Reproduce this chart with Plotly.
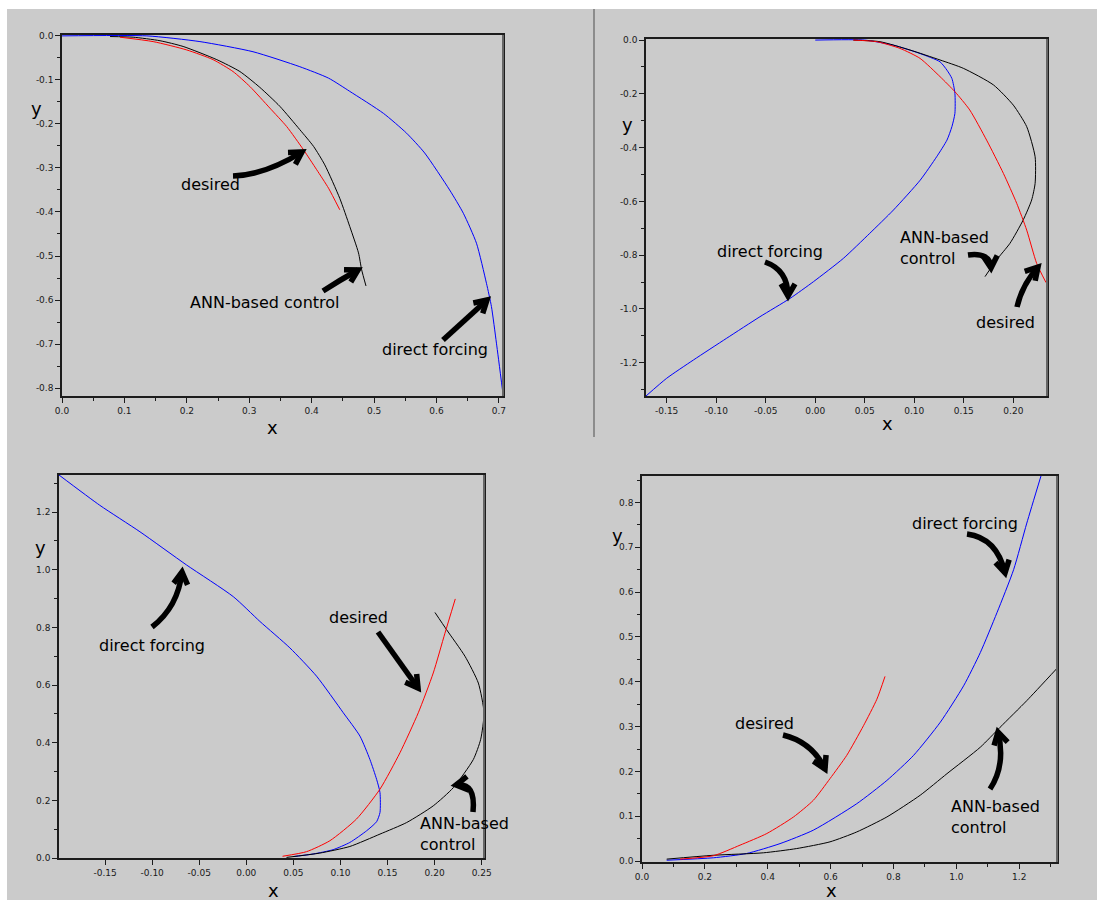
import math
import plotly.graph_objects as go

W, H = 1097, 900

# ---------------- data ----------------
# Panel 1 (top-left)
p1_desired_x = [0.093, 0.146, 0.200, 0.242, 0.274, 0.301, 0.333, 0.360, 0.387, 0.408, 0.427, 0.445]
p1_desired_y = [-0.003, -0.013, -0.032, -0.054, -0.081, -0.115, -0.164, -0.206, -0.259, -0.304, -0.346, -0.395]
p1_ann_x = [0.077, 0.114, 0.157, 0.194, 0.248, 0.285, 0.317, 0.349, 0.381, 0.403, 0.421, 0.445, 0.461, 0.475, 0.480, 0.487]
p1_ann_y = [-0.0015, -0.003, -0.011, -0.024, -0.054, -0.081, -0.117, -0.160, -0.213, -0.251, -0.293, -0.369, -0.433, -0.493, -0.531, -0.568]
p1_direct_x = [0.0, 0.136, 0.221, 0.306, 0.381, 0.427, 0.461, 0.515, 0.552, 0.581, 0.621, 0.643, 0.664, 0.680, 0.688, 0.696, 0.706]
p1_direct_y = [0.0, 0.0, -0.013, -0.036, -0.070, -0.096, -0.126, -0.176, -0.221, -0.266, -0.350, -0.403, -0.471, -0.562, -0.615, -0.698, -0.808]

# Panel 2 (top-right)
p2_desired_x = [0.0385, 0.062, 0.0856, 0.1058, 0.126, 0.141, 0.156, 0.173, 0.190, 0.2034, 0.2135, 0.2236, 0.233]
p2_desired_y = [0.0, -0.006, -0.031, -0.068, -0.136, -0.192, -0.260, -0.372, -0.496, -0.607, -0.707, -0.831, -0.902]
p2_ann_x = [0.0385, 0.0654, 0.0957, 0.126, 0.1495, 0.180, 0.200, 0.2135, 0.222, 0.222, 0.2185, 0.210, 0.1966, 0.183, 0.1714]
p2_ann_y = [0.0, -0.006, -0.037, -0.074, -0.105, -0.167, -0.242, -0.322, -0.434, -0.533, -0.595, -0.669, -0.756, -0.818, -0.880]
p2_direct_x = [0.0, 0.050, 0.0789, 0.1058, 0.126, 0.133, 0.138, 0.141, 0.141, 0.138, 0.133, 0.1226, 0.106, 0.079,
               0.055, 0.0284, -0.0019, -0.0255, -0.0558, -0.0894, -0.123, -0.150, -0.1709]
p2_direct_y = [0.0, 0.0, -0.019, -0.050, -0.081, -0.112, -0.143, -0.198, -0.273, -0.322, -0.372, -0.434, -0.521, -0.632,
               -0.719, -0.812, -0.899, -0.961, -1.029, -1.109, -1.190, -1.258, -1.324]

# Panel 3 (bottom-left)
p3_desired_x = [0.0385, 0.064, 0.0888, 0.117, 0.142, 0.1632, 0.1827, 0.1986, 0.211, 0.222]
p3_desired_y = [0.006, 0.022, 0.060, 0.135, 0.239, 0.365, 0.504, 0.642, 0.780, 0.899]
p3_ann_x = [0.0427, 0.078, 0.110, 0.142, 0.1703, 0.1986, 0.2199, 0.2412, 0.249, 0.2525, 0.2465, 0.2323, 0.2128, 0.2004]
p3_ann_y = [0.002, 0.017, 0.040, 0.083, 0.123, 0.181, 0.244, 0.342, 0.412, 0.504, 0.607, 0.700, 0.792, 0.852]
p3_direct_x = [-0.199, -0.1557, -0.113, -0.0636, -0.0139, 0.0144, 0.0463, 0.0746, 0.103, 0.1207, 0.1313, 0.1384, 0.142,
               0.142, 0.1384, 0.1278, 0.110, 0.0923, 0.0711, 0.0498]
p3_direct_y = [1.329, 1.224, 1.132, 1.017, 0.907, 0.821, 0.729, 0.631, 0.504, 0.423, 0.342, 0.273, 0.227,
               0.158, 0.126, 0.0945, 0.054, 0.029, 0.014, 0.005]

# Panel 4 (bottom-right)
p4_desired_x = [0.121, 0.227, 0.312, 0.397, 0.482, 0.545, 0.598, 0.651, 0.7045, 0.747, 0.773]
p4_desired_y = [0.0044, 0.012, 0.0356, 0.0615, 0.0985, 0.1356, 0.184, 0.2356, 0.302, 0.361, 0.412]
p4_ann_x = [0.0785, 0.227, 0.386, 0.492, 0.598, 0.683, 0.779, 0.885, 0.970, 1.076, 1.139, 1.224, 1.320]
p4_ann_y = [0.0044, 0.013, 0.0185, 0.028, 0.043, 0.065, 0.0985, 0.147, 0.195, 0.254, 0.2985, 0.358, 0.430]
p4_direct_x = [0.0785, 0.227, 0.333, 0.439, 0.545, 0.683, 0.779, 0.864, 0.949, 1.023, 1.076, 1.129, 1.182, 1.224, 1.269]
p4_direct_y = [0.002, 0.0074, 0.017, 0.039, 0.069, 0.128, 0.180, 0.236, 0.310, 0.391, 0.465, 0.554, 0.650, 0.754, 0.859]

# tick values / labels
p1_xticks = [0.0, 0.1, 0.2, 0.3, 0.4, 0.5, 0.6, 0.7]
p1_xlabels = ["0.0", "0.1", "0.2", "0.3", "0.4", "0.5", "0.6", "0.7"]
p1_yticks = [0.0, -0.1, -0.2, -0.3, -0.4, -0.5, -0.6, -0.7, -0.8]
p1_ylabels = ["0.0", "-0.1", "-0.2", "-0.3", "-0.4", "-0.5", "-0.6", "-0.7", "-0.8"]
p2_xticks = [-0.15, -0.10, -0.05, 0.0, 0.05, 0.10, 0.15, 0.20]
p2_xlabels = ["-0.15", "-0.10", "-0.05", "0.00", "0.05", "0.10", "0.15", "0.20"]
p2_yticks = [0.0, -0.2, -0.4, -0.6, -0.8, -1.0, -1.2]
p2_ylabels = ["0.0", "-0.2", "-0.4", "-0.6", "-0.8", "-1.0", "-1.2"]
p3_xticks = [-0.15, -0.10, -0.05, 0.0, 0.05, 0.10, 0.15, 0.20, 0.25]
p3_xlabels = ["-0.15", "-0.10", "-0.05", "0.00", "0.05", "0.10", "0.15", "0.20", "0.25"]
p3_yticks = [0.0, 0.2, 0.4, 0.6, 0.8, 1.0, 1.2]
p3_ylabels = ["0.0", "0.2", "0.4", "0.6", "0.8", "1.0", "1.2"]
p4_xticks = [0.0, 0.2, 0.4, 0.6, 0.8, 1.0, 1.2]
p4_xlabels = ["0.0", "0.2", "0.4", "0.6", "0.8", "1.0", "1.2"]
p4_yticks = [0.0, 0.1, 0.2, 0.3, 0.4, 0.5, 0.6, 0.7, 0.8]
p4_ylabels = ["0.0", "0.1", "0.2", "0.3", "0.4", "0.5", "0.6", "0.7", "0.8"]

# ---------------- layout helpers ----------------
BG = "#cbcbcb"
AX = "#1c1c1c"
FONT = "DejaVu Sans"


def px(x):
    return x / W


def py(y):
    return 1 - y / H


# plot boxes in pixels: (left, top, right, bottom)
boxes = [(62, 35, 503, 396), (646, 39, 1047, 396), (59, 475, 484, 858), (642, 476, 1057, 862)]
xranges = [[0, 0.7065], [-0.1709, 0.234], [-0.199, 0.2525], [0, 1.32]]
yranges = [[-0.818, 0.002], [-1.324, 0.004], [0, 1.329], [-0.002, 0.859]]
xtick_sets = [(p1_xticks, p1_xlabels), (p2_xticks, p2_xlabels), (p3_xticks, p3_xlabels), (p4_xticks, p4_xlabels)]
ytick_sets = [(p1_yticks, p1_ylabels), (p2_yticks, p2_ylabels), (p3_yticks, p3_ylabels), (p4_yticks, p4_ylabels)]
xminor = [0.05, None, None, 0.1]
yminor = [0.05, 0.1, 0.1, 0.05]

series = [
    (p1_desired_x, p1_desired_y, p1_ann_x, p1_ann_y, p1_direct_x, p1_direct_y),
    (p2_desired_x, p2_desired_y, p2_ann_x, p2_ann_y, p2_direct_x, p2_direct_y),
    (p3_desired_x, p3_desired_y, p3_ann_x, p3_ann_y, p3_direct_x, p3_direct_y),
    (p4_desired_x, p4_desired_y, p4_ann_x, p4_ann_y, p4_direct_x, p4_direct_y),
]

fig = go.Figure()
layout = dict(
    width=W, height=H, autosize=False,
    margin=dict(l=0, r=0, t=0, b=0, pad=0),
    paper_bgcolor=BG, plot_bgcolor=BG,
    showlegend=False,
    font=dict(family=FONT, color=AX),
)

LINE_KW = dict(width=1, shape="spline", smoothing=0.6)

for i, (box, s) in enumerate(zip(boxes, series)):
    n = "" if i == 0 else str(i + 1)
    xa, ya = "x" + n, "y" + n
    dx, dy, ax_, ay_, fx, fy = s
    fig.add_trace(go.Scatter(x=fx, y=fy, mode="lines", line=dict(color="#0000ff", **LINE_KW),
                             xaxis=xa, yaxis=ya, hoverinfo="skip"))
    fig.add_trace(go.Scatter(x=ax_, y=ay_, mode="lines", line=dict(color="#000000", **LINE_KW),
                             xaxis=xa, yaxis=ya, hoverinfo="skip"))
    fig.add_trace(go.Scatter(x=dx, y=dy, mode="lines", line=dict(color="#ff0000", **LINE_KW),
                             xaxis=xa, yaxis=ya, hoverinfo="skip"))
    l, t, r, b = box
    common = dict(showgrid=False, zeroline=False, showline=True, mirror=True, linecolor=AX, linewidth=1.5,
                  ticks="outside", ticklen=5, tickwidth=1, tickcolor=AX, automargin=False,
                  tickfont=dict(family=FONT, size=9, color="#1a1a1a"), tickmode="array", fixedrange=True)
    xmin = dict(ticks="outside", ticklen=3, tickwidth=1, tickcolor=AX, tickmode="linear", tick0=0,
                dtick=xminor[i], showgrid=False) if xminor[i] else None
    ymin = dict(ticks="outside", ticklen=3, tickwidth=1, tickcolor=AX, tickmode="linear", tick0=0,
                dtick=yminor[i], showgrid=False)
    xd = dict(common, domain=[px(l), px(r)], range=xranges[i], anchor=ya,
              tickvals=xtick_sets[i][0], ticktext=xtick_sets[i][1])
    if xmin:
        xd["minor"] = xmin
    yd = dict(common, domain=[py(b), py(t)], range=yranges[i], anchor=xa,
              tickvals=ytick_sets[i][0], ticktext=ytick_sets[i][1], minor=ymin)
    layout["xaxis" + n] = xd
    layout["yaxis" + n] = yd

fig.update_layout(**layout)

shapes = []
annotations = []

# white borders of the screenshot and divider
shapes.append(dict(type="rect", xref="paper", yref="paper", x0=0, x1=px(7), y0=0, y1=1,
                   fillcolor="white", line=dict(width=0), layer="above"))
shapes.append(dict(type="rect", xref="paper", yref="paper", x0=0, x1=1, y0=py(9), y1=1,
                   fillcolor="white", line=dict(width=0), layer="above"))
shapes.append(dict(type="line", xref="paper", yref="paper", x0=px(594), x1=px(594), y0=py(9), y1=py(437),
                   line=dict(color="#8c8c8c", width=2), layer="above"))
# greyish right edge of each frame
for (l, t, r, b) in boxes:
    shapes.append(dict(type="line", xref="paper", yref="paper", x0=px(r), x1=px(r), y0=py(b), y1=py(t),
                       line=dict(color="#666666", width=2), layer="above"))

# axis letters
axis_letters = [("x", 272, 427), ("y", 36, 108), ("x", 887, 423), ("y", 627, 125),
                ("x", 273, 890), ("y", 40, 547), ("x", 831, 890), ("y", 617, 535)]
for txt, x, y in axis_letters:
    annotations.append(dict(text=txt, xref="paper", yref="paper", x=px(x), y=py(y), showarrow=False,
                            xanchor="center", yanchor="middle", font=dict(family=FONT, size=18, color="#000000")))

# label texts (centre positions, or left edge for left-aligned)
labels = [
    ("desired", 210, 185, "center"),
    ("ANN-based control", 265, 302, "center"),
    ("direct forcing", 435, 350, "center"),
    ("direct forcing", 770, 251, "center"),
    ("ANN-based<br>control", 898, 248, "left"),
    ("desired", 1005, 322, "center"),
    ("direct forcing", 152, 645, "center"),
    ("desired", 359, 617, "center"),
    ("ANN-based<br>control", 418, 834, "left"),
    ("direct forcing", 965, 523, "center"),
    ("desired", 764, 723, "center"),
    ("ANN-based<br>control", 949, 817, "left"),
]
for txt, x, y, anc in labels:
    annotations.append(dict(text=txt, xref="paper", yref="paper", x=px(x), y=py(y), showarrow=False,
                            xanchor=anc, yanchor="middle", align="left",
                            font=dict(family=FONT, size=16, color="#000000")))

# hand-drawn arrows: tail, control, tip (pixels)
arrows = [
    ((233, 176), (265, 175), (302, 152)),
    ((323, 291), (340, 280), (358, 270)),
    ((443, 340), (465, 320), (487, 300)),
    ((765, 262), (788, 270), (788, 296)),
    ((968, 255), (990, 252), (991, 268)),
    ((1017, 307), (1022, 285), (1038, 267)),
    ((152, 627), (178, 607), (182, 572)),
    ((378, 632), (398, 660), (418, 688)),
    ((473, 812), (476, 782), (456, 785)),
    ((967, 534), (997, 538), (1005, 573)),
    ((783, 735), (812, 742), (825, 769)),
    ((990, 789), (1006, 765), (998, 732)),
]
for (t0, c, t1) in arrows:
    path = "M {},{} Q {},{} {},{}".format(px(t0[0]), py(t0[1]), px(c[0]), py(c[1]), px(t1[0]), py(t1[1]))
    shapes.append(dict(type="path", xref="paper", yref="paper", path=path,
                       line=dict(color="black", width=5.5), layer="above"))
    ddx, ddy = t1[0] - c[0], t1[1] - c[1]
    ang = math.atan2(ddy, ddx)
    L = 14
    arms = []
    for da in (math.radians(150), math.radians(-150)):
        arms.append((t1[0] + L * math.cos(ang + da), t1[1] + L * math.sin(ang + da)))
    hp = "M {},{} L {},{} L {},{}".format(px(arms[0][0]), py(arms[0][1]), px(t1[0]), py(t1[1]),
                                          px(arms[1][0]), py(arms[1][1]))
    shapes.append(dict(type="path", xref="paper", yref="paper", path=hp,
                       line=dict(color="black", width=5.5), layer="above"))

fig.update_layout(shapes=shapes, annotations=annotations)
fig.write_html("out.html", config={"displayModeBar": False},
               post_script="document.body.style.margin='0px';document.body.style.overflow='hidden';")
